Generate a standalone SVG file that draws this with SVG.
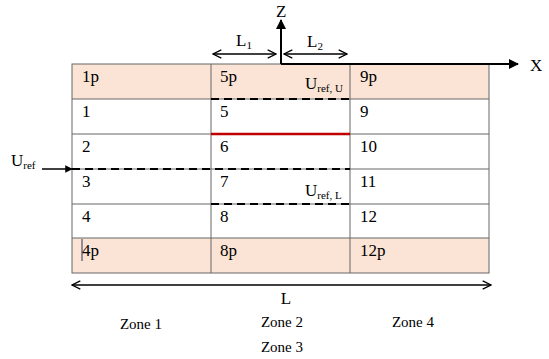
<svg xmlns="http://www.w3.org/2000/svg" width="549" height="359" viewBox="0 0 549 359" font-family="Liberation Serif, serif">
<style>
text{font-family:'Liberation Serif',serif;fill:#000}
.c{font-size:17px}
.z{font-size:15px}
.sub{font-size:11px}
.grid{stroke:#666;stroke-width:1;fill:none}
.dash{stroke:#000;stroke-width:2;stroke-dasharray:8,5;fill:none}
.ax{stroke:#000;stroke-width:2;fill:none}
.dim{stroke:#000;stroke-width:1.3;fill:none}
</style>
<defs>
<marker id="tri" viewBox="0 0 10 10" refX="9" refY="5" markerWidth="5" markerHeight="5" orient="auto" markerUnits="strokeWidth"><path d="M0,0 L10,5 L0,10 z" fill="#000"/></marker>
<marker id="chev" viewBox="0 0 10 10" refX="9" refY="5" markerWidth="8" markerHeight="8" orient="auto-start-reverse" markerUnits="strokeWidth"><path d="M1,1 L9,5 L1,9" fill="none" stroke="#000" stroke-width="1.2"/></marker>
</defs>
<g id="table">
<rect x="72" y="64" width="417" height="35" fill="#FBE4D5"/>
<rect x="72" y="238" width="417" height="35" fill="#FBE4D5"/>
<rect x="72" y="64" width="417" height="209" class="grid"/>
<path class="grid" d="M211,64 V273 M350,64 V273 M72,99 H489 M72,134 H489 M72,169 H489 M72,204 H489 M72,238 H489"/>
<line x1="82" y1="239" x2="82" y2="261" stroke="#335" stroke-width="1"/>
</g>
<g id="cells">
<text x="82" y="82" class="c">1p</text><text x="220" y="82" class="c">5p</text><text x="360" y="82" class="c">9p</text>
<text x="82" y="117" class="c">1</text><text x="220" y="117" class="c">5</text><text x="360" y="117" class="c">9</text>
<text x="82" y="152" class="c">2</text><text x="220" y="152" class="c">6</text><text x="360" y="152" class="c">10</text>
<text x="82" y="187" class="c">3</text><text x="220" y="187" class="c">7</text><text x="360" y="187" class="c">11</text>
<text x="82" y="222" class="c">4</text><text x="220" y="222" class="c">8</text><text x="360" y="222" class="c">12</text>
<text x="82" y="256" class="c">4p</text><text x="220" y="256" class="c">8p</text><text x="360" y="256" class="c">12p</text>
</g>
<g id="connectors">
<path class="dash" d="M211,99 H350"/>
<path class="dash" d="M72,169 H350"/>
<path class="dash" d="M211,204 H350"/>
<line x1="211" y1="134" x2="350" y2="134" stroke="#C00000" stroke-width="2.5"/>
<line x1="281" y1="64" x2="518" y2="64" class="ax" marker-end="url(#tri)"/>
<line x1="281" y1="64" x2="281" y2="20" class="ax" marker-end="url(#tri)"/>
<line x1="42" y1="169" x2="72" y2="169" stroke="#000" stroke-width="1.5" marker-end="url(#tri)"/>
<line x1="213" y1="54" x2="276" y2="54" class="dim" marker-start="url(#chev)" marker-end="url(#chev)"/>
<line x1="284" y1="54" x2="347" y2="54" class="dim" marker-start="url(#chev)" marker-end="url(#chev)"/>
<line x1="72" y1="285" x2="491" y2="285" class="dim" marker-start="url(#chev)" marker-end="url(#chev)"/>
</g>
<g id="labels">
<text x="276" y="17" class="c">Z</text>
<text x="530" y="71" class="c">X</text>
<text x="236" y="46" class="c">L<tspan class="sub" dy="3">1</tspan></text>
<text x="307" y="47" class="c">L<tspan class="sub" dy="3">2</tspan></text>
<text x="305" y="89" class="c">U<tspan class="sub" dy="3">ref, U</tspan></text>
<text x="305" y="196" class="c">U<tspan class="sub" dy="3">ref, L</tspan></text>
<text x="11" y="166" class="c">U<tspan class="sub" dy="3">ref</tspan></text>
<text x="286" y="304" class="c" text-anchor="middle">L</text>
<text x="141" y="329" class="z" text-anchor="middle">Zone 1</text>
<text x="282" y="327" class="z" text-anchor="middle">Zone 2</text>
<text x="413" y="327" class="z" text-anchor="middle">Zone 4</text>
<text x="282" y="352" class="z" text-anchor="middle">Zone 3</text>
</g>
</svg>
